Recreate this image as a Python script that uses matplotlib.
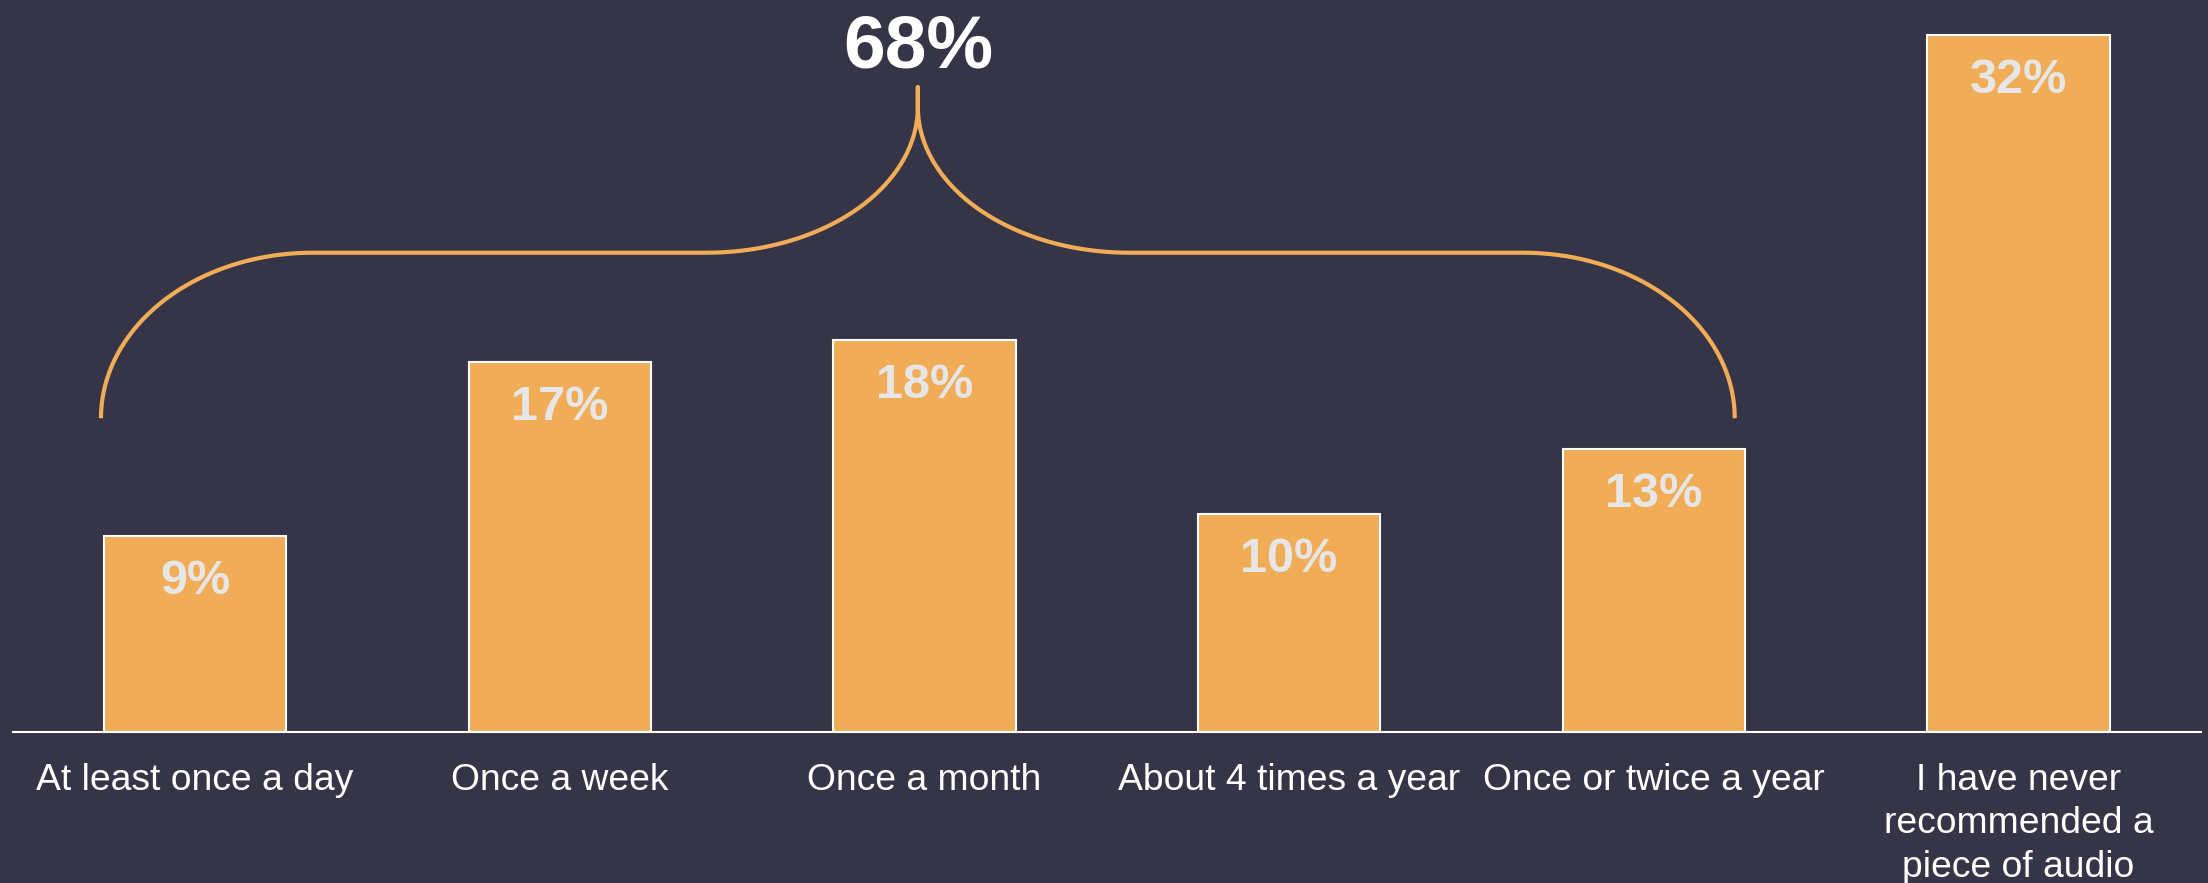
import numpy as np
import matplotlib.pyplot as plt

# Dados do gráfico
categories = ["At least once a day", "Once a week", "Once a month",
              "About 4 times a year", "Once or twice a year",
              "I have never\nrecommended a\npiece of audio"]
shares = [9, 17, 18, 10, 13, 32]
recommenders_total = 68  # total (arredondado) de quem já recomendou

BG = '#363547'
ORANGE = '#F1AC58'
LABEL_GREY = '#E6E6E6'


def brace_points(x_left, x_right, y_end, y_mid, y_peak, y_top, rx):
    # Chave horizontal feita de quatro quartos de elipse
    x_c = (x_left + x_right) / 2
    t = np.linspace(0, np.pi / 2, 40)
    ry1 = y_mid - y_end
    ry2 = y_peak - y_mid

    # lado esquerdo
    a_x = (x_left + rx) - rx * np.cos(t)
    a_y = y_end + ry1 * np.sin(t)
    b_x = (x_c - rx) + rx * np.sin(t)
    b_y = y_peak - ry2 * np.cos(t)
    left_x = np.concatenate([a_x, b_x, [x_c]])
    left_y = np.concatenate([a_y, b_y, [y_top]])

    # lado direito espelhado
    right_x = 2 * x_c - left_x[::-1]
    right_y = left_y[::-1]
    return np.concatenate([left_x, right_x]), np.concatenate([left_y, right_y])


def main():
    plt.rcParams['font.family'] = ['Liberation Sans', 'DejaVu Sans']

    fig = plt.figure(figsize=(22.08, 8.83), dpi=100, facecolor=BG)
    ax = fig.add_axes([0.00575, 0.171, 0.991, 0.829])
    ax.set_facecolor(BG)

    x = np.arange(len(categories))
    bars = ax.bar(x, shares, width=0.5, color=ORANGE,
                  edgecolor='white', linewidth=1.5)

    # Rótulos de porcentagem dentro das barras
    for rect, v in zip(bars, shares):
        ax.annotate(f'{v}%', (rect.get_x() + rect.get_width() / 2, v),
                    xytext=(0, -33), textcoords='offset points',
                    ha='center', va='center', fontsize=35,
                    fontweight='bold', color=LABEL_GREY)

    ax.set_xlim(-0.5, 5.5)
    ax.set_ylim(0, 33.6)

    ax.set_xticks(x)
    ax.set_xticklabels(categories, fontsize=26.8, color='white',
                       linespacing=1.32)
    ax.tick_params(axis='x', length=0, pad=22)
    ax.set_yticks([])

    for side in ['left', 'right', 'top']:
        ax.spines[side].set_visible(False)
    ax.spines['bottom'].set_color('white')
    ax.spines['bottom'].set_linewidth(1.5)

    # Chave agrupando as cinco primeiras categorias
    bx, by = brace_points(-0.258, 4.222, 14.4, 22.0, 28.7, 29.6, 0.58)
    ax.plot(bx, by, color=ORANGE, linewidth=3, clip_on=False,
            solid_capstyle='butt')
    ax.text((-0.258 + 4.222) / 2, 31.4, f'{recommenders_total}%',
            ha='center', va='center', fontsize=54, fontweight='bold',
            color='white')

    fig.savefig('out.png', dpi=100, facecolor=BG)


if __name__ == "__main__":
    main()
